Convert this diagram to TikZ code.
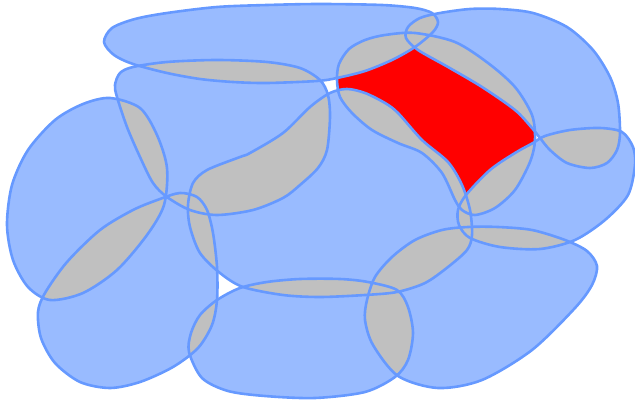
\documentclass[tikz,border=0pt]{standalone}
\definecolor{blobfill}{HTML}{99BBFF}
\definecolor{blobline}{HTML}{6699FF}
\definecolor{overlap}{HTML}{C0C0C0}
\definecolor{hole}{HTML}{FF0000}
\def\blobA{plot[smooth cycle] coordinates {(104,42) (112,28) (135,19) (167,13) (217,7) (267,5) (320,4) (382,5) (415,8) (432,13) (438,22) (433,32) (415,47) (392,60) (365,71) (337,78) (317,81) (267,83) (233,82) (200,79) (167,73) (133,64) (114,55)}}
\def\blobB{plot[smooth cycle] coordinates {(408,27) (420,18) (440,13) (470,9) (500,9) (533,13) (567,27) (593,50) (610,77) (618,103) (620,133) (617,150) (607,163) (590,168) (567,163) (550,150) (540,138) (532,128) (515,110) (482,87) (448,67) (418,50) (406,38)}}
\def\blobC{plot[smooth cycle] coordinates {(337,80) (339,64) (349,49) (365,40) (385,35) (415,33) (455,42) (488,63) (515,87) (532,115) (535,140) (530,162) (515,190) (495,208) (475,215) (462,210) (455,200) (442,173) (422,153) (398,143) (372,130) (352,113) (340,97)}}
\def\blobD{plot[smooth cycle] coordinates {(250,153) (283,133) (310,107) (330,93) (347,89) (365,93) (385,103) (398,113) (422,140) (448,162) (462,185) (470,210) (472,235) (467,250) (448,267) (425,283) (397,292) (365,295) (320,297) (283,295) (243,287) (220,273) (200,253) (190,227) (188,205) (193,183) (207,170) (240,157)}}
\def\blobE{plot[smooth cycle] coordinates {(533,143) (545,136) (570,130) (600,128) (622,132) (633,147) (635,165) (628,195) (605,220) (575,240) (540,249) (500,247) (470,238) (459,225) (458,210) (466,195) (490,170) (515,153)}}
\def\blobF{plot[smooth cycle] coordinates {(189,352) (191,333) (200,315) (217,300) (240,288) (267,282) (300,279) (340,279) (368,282) (397,290) (408,307) (413,333) (408,360) (395,377) (365,392) (315,398) (265,396) (228,391) (202,378)}}
\def\blobG{plot[smooth cycle] coordinates {(367,300) (375,277) (392,257) (415,240) (442,230) (468,227) (498,227) (532,230) (565,240) (587,251) (597,266) (592,285) (575,308) (532,350) (482,380) (438,388) (398,376) (373,345) (365,320)}}
\def\blobH{plot[smooth cycle] coordinates {(110,98) (140,108) (157,135) (167,168) (164,205) (147,235) (117,270) (83,293) (50,300) (28,287) (13,260) (7,225) (12,185) (28,150) (55,120) (83,104)}}
\def\blobI{plot[smooth cycle] coordinates {(117,97) (115,85) (120,73) (133,67) (167,62) (217,60) (267,62) (300,68) (320,80) (328,95) (330,117) (327,150) (318,168) (300,185) (283,198) (253,210) (217,215) (190,210) (167,197) (153,183) (140,157) (127,127)}}
\def\blobJ{plot[smooth cycle] coordinates {(45,293) (67,262) (100,230) (133,210) (160,199) (180,193) (197,197) (207,210) (213,233) (217,267) (217,300) (212,325) (198,348) (173,367) (140,382) (110,388) (80,382) (55,363) (41,338) (38,312)}}
\tikzset{
  bloboutline/.style={draw=blobline, line width=2.6pt, line join=round},
}
\begin{document}
\begin{tikzpicture}[x=1pt,y=-1pt]
\useasboundingbox (0,0) rectangle (635,401);
% base fills
\foreach \q in {\blobA,\blobB,\blobD,\blobE,\blobF,\blobG,\blobH,\blobI,\blobJ} \fill[blobfill] \q;
\fill[hole] \blobC;
% overlaps
\begin{scope}\clip \blobA; \foreach \q in {\blobB,\blobC,\blobD,\blobE,\blobF,\blobG,\blobH,\blobI,\blobJ} \fill[overlap] \q; \end{scope}
\begin{scope}\clip \blobB; \foreach \q in {\blobC,\blobD,\blobE,\blobF,\blobG,\blobH,\blobI,\blobJ} \fill[overlap] \q; \end{scope}
\begin{scope}\clip \blobC; \foreach \q in {\blobD,\blobE,\blobF,\blobG,\blobH,\blobI,\blobJ} \fill[overlap] \q; \end{scope}
\begin{scope}\clip \blobD; \foreach \q in {\blobE,\blobF,\blobG,\blobH,\blobI,\blobJ} \fill[overlap] \q; \end{scope}
\begin{scope}\clip \blobE; \foreach \q in {\blobF,\blobG,\blobH,\blobI,\blobJ} \fill[overlap] \q; \end{scope}
\begin{scope}\clip \blobF; \foreach \q in {\blobG,\blobH,\blobI,\blobJ} \fill[overlap] \q; \end{scope}
\begin{scope}\clip \blobG; \foreach \q in {\blobH,\blobI,\blobJ} \fill[overlap] \q; \end{scope}
\begin{scope}\clip \blobH; \foreach \q in {\blobI,\blobJ} \fill[overlap] \q; \end{scope}
\begin{scope}\clip \blobI; \fill[overlap] \blobJ; \end{scope}
% outlines
\foreach \q in {\blobA,\blobB,\blobC,\blobD,\blobE,\blobF,\blobG,\blobH,\blobI,\blobJ} \path[bloboutline] \q;
\end{tikzpicture}
\end{document}
